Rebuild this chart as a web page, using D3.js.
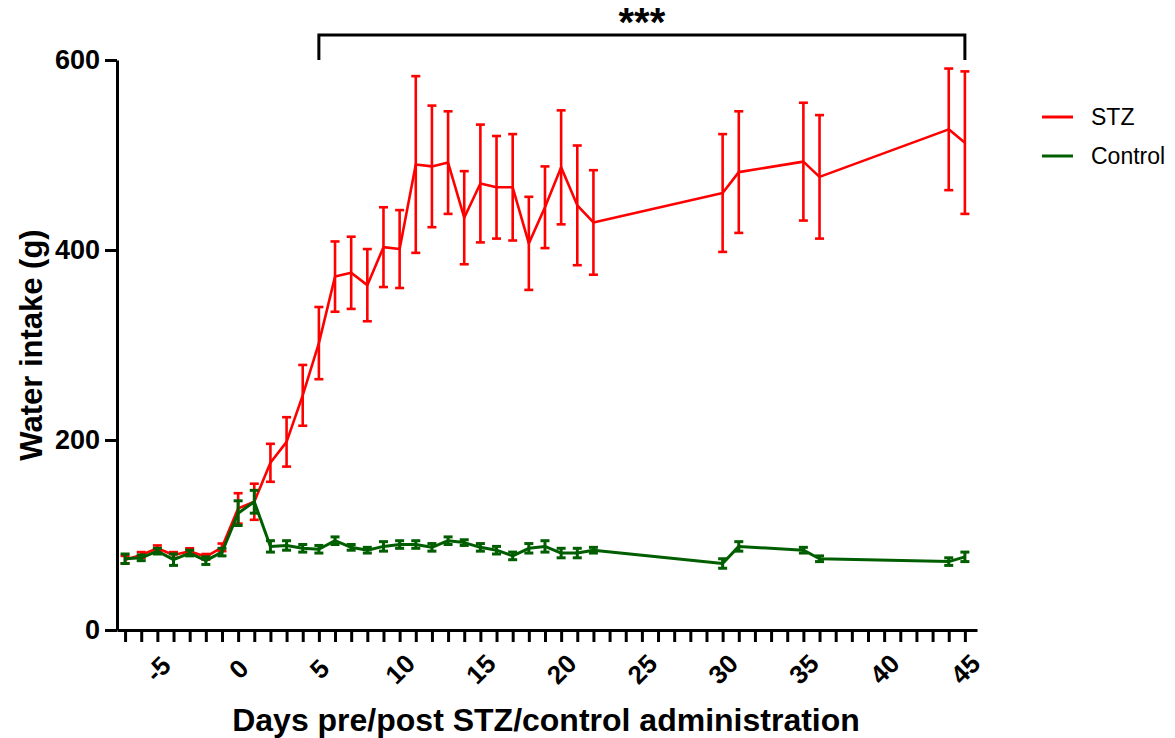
<!DOCTYPE html>
<html>
<head>
<meta charset="utf-8">
<script src="https://cdn.jsdelivr.net/npm/d3@7"></script>
<style>
  html, body { margin: 0; padding: 0; background: #fff; }
  svg { display: block; font-family: "Liberation Sans", Arial, sans-serif; }
</style>
</head>
<body>
<svg id="chart" width="1175" height="738"></svg>
<script>
// Days relative to STZ / control administration
const days = [-7, -6, -5, -4, -3, -2, -1, 0, 1, 2, 3, 4, 5, 6, 7, 8, 9, 10, 11, 12, 13, 14, 15, 16, 17, 18, 19, 20, 21, 22, 30, 31, 35, 36, 44, 45];

// STZ group: mean water intake (g) and error
const stzMean = [74, 79, 86, 79, 83, 77, 87, 128, 135, 176, 198, 247, 302, 372, 376, 363, 403, 401, 490, 488, 492, 434, 470, 466, 466, 407, 445, 487, 447, 429, 460, 482, 493, 477, 527, 513];
const stzErr  = [4, 3, 3, 3, 3, 3, 4, 16, 19, 20, 26, 32, 38, 37, 38, 38, 42, 41, 93, 64, 54, 49, 62, 54, 56, 49, 43, 60, 63, 55, 62, 64, 62, 65, 64, 75];

// Control group: mean water intake (g) and error
const ctlMean = [75, 76, 83, 74, 81, 73, 82, 123, 135, 88, 89, 86, 85, 94, 87, 84, 88, 90, 90, 87, 94, 92, 87, 84, 78, 86, 88, 81, 81, 84, 70, 88, 84, 75, 72, 77];
const ctlErr  = [5, 3, 3, 6, 3, 4, 4, 13, 12, 6, 5, 4, 4, 4, 3, 3, 5, 4, 4, 4, 4, 3, 4, 4, 4, 5, 6, 5, 5, 3, 5, 5, 3, 3, 4, 5];

const xTickValues = d3.range(-7, 46);
const xLabelValues = [-5, 0, 5, 10, 15, 20, 25, 30, 35, 40, 45];
const yTickValues = [0, 200, 400, 600];

const seriesNames = ["STZ", "Control"];
const seriesColors = ["#ff0000", "#005e00"];

// Significance bracket spans these days
const bracketDays = [5, 45];
const bracketLabel = "***";

const svg = d3.select("#chart");

const x = d3.scaleLinear().domain([-7.5, 45.75]).range([117, 977]);
const y = d3.scaleLinear().domain([0, 600]).range([630, 60]);

// Axes
const xAxis = d3.axisBottom(x)
  .tickValues(xTickValues)
  .tickSize(12)
  .tickSizeOuter(0)
  .tickFormat(d => xLabelValues.includes(d) ? String(d) : "");

const gx = svg.append("g").attr("transform", `translate(0,${y(0)})`).call(xAxis);
gx.select(".domain").attr("stroke", "#000").attr("stroke-width", 3);
gx.selectAll(".tick line").attr("stroke", "#000").attr("stroke-width", 3);
gx.selectAll(".tick text")
  .attr("y", 0).attr("dy", "0.35em")
  .attr("transform", "translate(0,39) rotate(-45)")
  .attr("text-anchor", "middle")
  .attr("font-size", 26).attr("font-weight", "bold").attr("fill", "#000")
  .attr("font-family", "'Liberation Sans', Arial, sans-serif");

const yAxis = d3.axisLeft(y)
  .tickValues(yTickValues)
  .tickSize(12)
  .tickSizeOuter(0)
  .tickPadding(5);

const gy = svg.append("g").attr("transform", `translate(${x(-7.5)},0)`).call(yAxis);
gy.select(".domain").attr("stroke", "#000").attr("stroke-width", 3);
gy.selectAll(".tick line").attr("stroke", "#000").attr("stroke-width", 3);
gy.selectAll(".tick text")
  .attr("font-size", 27).attr("font-weight", "bold").attr("fill", "#000")
  .attr("font-family", "'Liberation Sans', Arial, sans-serif");

// Axis titles
svg.append("text")
  .attr("x", 546).attr("y", 731)
  .attr("text-anchor", "middle")
  .attr("font-size", 32).attr("font-weight", "bold")
  .text("Days pre/post STZ/control administration");

svg.append("text")
  .attr("transform", "translate(42,345) rotate(-90)")
  .attr("text-anchor", "middle")
  .attr("font-size", 31).attr("font-weight", "bold")
  .text("Water intake (g)");

// Series: lines with error bars
function drawSeries(means, errs, color, width) {
  const pts = days.map((d, i) => ({ d, m: means[i], e: errs[i] }));
  const g = svg.append("g");
  g.append("path")
    .datum(pts)
    .attr("fill", "none")
    .attr("stroke", color)
    .attr("stroke-width", width)
    .attr("stroke-linejoin", "round")
    .attr("d", d3.line().x(p => x(p.d)).y(p => y(p.m)));
  const eb = g.selectAll(".eb").data(pts).join("g").attr("class", "eb")
    .attr("stroke", color).attr("stroke-width", width);
  eb.append("line")
    .attr("x1", p => x(p.d)).attr("x2", p => x(p.d))
    .attr("y1", p => y(p.m + p.e)).attr("y2", p => y(p.m - p.e));
  eb.append("line")
    .attr("x1", p => x(p.d) - 4.5).attr("x2", p => x(p.d) + 4.5)
    .attr("y1", p => y(p.m + p.e)).attr("y2", p => y(p.m + p.e));
  eb.append("line")
    .attr("x1", p => x(p.d) - 4.5).attr("x2", p => x(p.d) + 4.5)
    .attr("y1", p => y(p.m - p.e)).attr("y2", p => y(p.m - p.e));
}

drawSeries(stzMean, stzErr, seriesColors[0], 2.6);
drawSeries(ctlMean, ctlErr, seriesColors[1], 3);

// Significance bracket
const bx0 = x(bracketDays[0]), bx1 = x(bracketDays[1]);
svg.append("path")
  .attr("fill", "none").attr("stroke", "#000").attr("stroke-width", 3)
  .attr("d", `M${bx0},60 V35 H${bx1} V60`);
svg.append("text")
  .attr("x", (bx0 + bx1) / 2).attr("y", 36)
  .attr("text-anchor", "middle")
  .attr("font-size", 40).attr("font-weight", "bold")
  .text(bracketLabel);

// Legend
const legend = svg.append("g");
seriesNames.forEach((name, i) => {
  const ly = 117 + i * 39;
  legend.append("line")
    .attr("x1", 1042).attr("x2", 1073).attr("y1", ly).attr("y2", ly)
    .attr("stroke", seriesColors[i]).attr("stroke-width", 3);
  legend.append("text")
    .attr("x", 1091).attr("y", ly).attr("dy", "0.35em")
    .attr("font-size", 23)
    .text(name);
});
</script>
</body>
</html>
